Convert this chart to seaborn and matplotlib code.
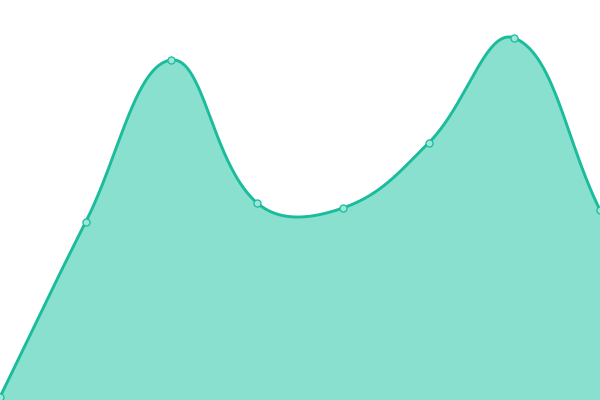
import numpy as np
import pandas as pd
import matplotlib
matplotlib.use('Agg')
import matplotlib.pyplot as plt
import seaborn as sns

# 데이터 (x는 0..7 균등 간격)
xs = [0, 1, 2, 3, 4, 5, 6, 7]
values = [3, 178, 340, 197, 192, 257, 362, 190]

line_color = '#1abc9c'
fill_color = '#89e0cf'

W, H = 600, 400
XMAX, YMAX = 7, 400


def tension_curve(x, y, t=0.4, n=80):
    # Chart.js 스타일 스플라인 (tension), 픽셀 좌표에서 계산
    p = np.column_stack([np.asarray(x, float) * W / XMAX,
                         np.asarray(y, float) * H / YMAX])
    k = len(p)
    c_prev = p.copy()
    c_next = p.copy()
    for i in range(k):
        a = p[max(i - 1, 0)]
        b = p[i]
        c = p[min(i + 1, k - 1)]
        d01 = np.hypot(*(b - a))
        d12 = np.hypot(*(c - b))
        s01 = d01 / (d01 + d12) if d01 + d12 else 0
        s12 = d12 / (d01 + d12) if d01 + d12 else 0
        c_prev[i] = b - t * s01 * (c - a)
        c_next[i] = b + t * s12 * (c - a)
    c_prev[:, 0] = np.clip(c_prev[:, 0], 0, W)
    c_next[:, 0] = np.clip(c_next[:, 0], 0, W)
    c_prev[:, 1] = np.clip(c_prev[:, 1], 0, H)
    c_next[:, 1] = np.clip(c_next[:, 1], 0, H)
    tt = np.linspace(0, 1, n)[:, None]
    segs = []
    for i in range(k - 1):
        P0, P1, P2, P3 = p[i], c_next[i], c_prev[i + 1], p[i + 1]
        seg = ((1 - tt) ** 3) * P0 + 3 * ((1 - tt) ** 2) * tt * P1 \
            + 3 * (1 - tt) * tt ** 2 * P2 + tt ** 3 * P3
        segs.append(seg if i == 0 else seg[1:])
    out = np.vstack(segs)
    return out[:, 0] * XMAX / W, out[:, 1] * YMAX / H


sx, sy = tension_curve(xs, values)
curve = pd.DataFrame({'x': sx, 'y': sy})
pts = pd.DataFrame({'x': xs, 'y': values})

sns.set_style('white')
fig = plt.figure(figsize=(6, 4), dpi=100)
ax = fig.add_axes([0, 0, 1, 1])

ax.fill_between(sx, sy, 0, color=fill_color, linewidth=0)
sns.lineplot(data=curve, x='x', y='y', ax=ax, color=line_color, linewidth=2.1, sort=False)
sns.scatterplot(data=pts, x='x', y='y', ax=ax, s=26, color='#9ee6d7',
                edgecolor=line_color, linewidth=0.9, zorder=5, clip_on=False)

ax.set_xlim(0, XMAX)
ax.set_ylim(0, YMAX)
ax.axis('off')

fig.savefig('out.png', dpi=100)
